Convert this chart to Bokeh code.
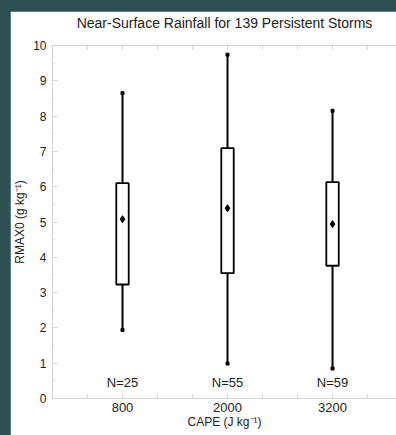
from bokeh.plotting import figure
from bokeh.models import (ColumnDataSource, FixedTicker, LinearAxis, Range1d)
from bokeh.embed import file_html
from bokeh.resources import INLINE

# ---- data ----
title_text = "Near-Surface Rainfall for 139 Persistent Storms"
cape = [800, 2000, 3200]
n_storms = [25, 55, 59]
whisker_low = [1.94, 0.99, 0.85]
q1 = [3.23, 3.55, 3.76]
median = [5.56, 5.56, 5.12]
q3 = [6.10, 7.09, 6.13]
whisker_high = [8.65, 9.74, 8.15]
mean = [5.08, 5.39, 4.94]
n_label_y = [0.45, 0.45, 0.45]
x_ticks = [800, 2000, 3200]
x_minor = [0, 400, 1200, 1600, 2400, 2800, 3600]
x_all = [0, 400, 800, 1200, 1600, 2000, 2400, 2800, 3200, 3600]
y_ticks = list(range(0, 11))

FONT = "Liberation Sans"
TXT = "#222222"
AX = "#d4d4d4"
TEAL = "#2d5053"
BOX_W = 142

src = ColumnDataSource(dict(
    x=cape, lo=whisker_low, q1=q1, med=median, q3=q3, hi=whisker_high,
    mean=mean, n=[f"N={v}" for v in n_storms], ny=n_label_y,
))

p = figure(width=386, height=424, output_backend="svg", toolbar_location=None,
           x_range=Range1d(0, 3931), y_range=Range1d(0, 10),
           min_border_left=42, min_border_right=0, min_border_top=34,
           min_border_bottom=37, x_axis_location=None, y_axis_location=None)
p.background_fill_color = "white"
p.border_fill_color = "white"
p.outline_line_color = None
p.xgrid.visible = False
p.ygrid.visible = False

def style_axis(ax, size="12px"):
    ax.axis_line_color = AX
    ax.axis_line_width = 1.2
    ax.major_tick_line_color = AX
    ax.minor_tick_line_color = AX
    ax.major_tick_out = 0
    ax.minor_tick_out = 0
    ax.major_label_text_font = FONT
    ax.major_label_text_font_size = size
    ax.major_label_text_color = TXT
    ax.axis_label_text_font = FONT
    ax.axis_label_text_font_size = "12px"
    ax.axis_label_text_font_style = "normal"
    ax.axis_label_text_color = TXT

xb = LinearAxis(ticker=FixedTicker(ticks=x_ticks, minor_ticks=x_minor),
                axis_label="CAPE (J kg\u207b\u00b9)")
style_axis(xb, "13px")
xb.major_tick_in = 4
xb.minor_tick_in = 4
xb.major_label_standoff = 4
xb.axis_label_standoff = 0
p.add_layout(xb, "below")

# top axis: tick marks only, with the chart title as its label
xt = LinearAxis(ticker=FixedTicker(ticks=[], minor_ticks=x_all),
                axis_label=title_text)
style_axis(xt)
xt.minor_tick_in = 4
xt.major_label_standoff = 0
xt.axis_label_text_font_size = "14px"
xt.axis_label_standoff = 15
p.add_layout(xt, "above")

yl = LinearAxis(ticker=FixedTicker(ticks=y_ticks,
                                   minor_ticks=[v + 0.5 for v in y_ticks[:-1]]),
                axis_label="RMAX0 (g kg\u207b\u00b9)")
style_axis(yl)
yl.major_tick_in = 5
yl.minor_tick_in = 2
yl.major_label_standoff = 6
yl.axis_label_standoff = 3
p.add_layout(yl, "left")

# whiskers
p.segment(x0="x", y0="q3", x1="x", y1="hi", source=src, line_color="black", line_width=2)
p.segment(x0="x", y0="lo", x1="x", y1="q1", source=src, line_color="black", line_width=2)
p.scatter(x="x", y="hi", source=src, marker="square", size=3, color="black")
p.scatter(x="x", y="lo", source=src, marker="square", size=3, color="black")
# boxes
p.vbar(x="x", width=BOX_W, bottom="q1", top="q3", source=src,
       fill_color="white", line_color="black", line_width=1.8)
p.rect(x="x", y="med", width=BOX_W, height=0, source=src,
       line_color="black", line_width=2)
# mean
p.scatter(x="x", y="mean", source=src, marker="diamond", size=7, color="black")
# counts
p.text(x="x", y="ny", text="n", source=src, text_align="center",
       text_baseline="middle", text_font_size="13px", text_color=TXT,
       text_font={"value": FONT})

html = file_html(p, INLINE, title="Near-Surface Rainfall")
css = ("<style>html,body{margin:0 !important;background:%s !important;"
       "overflow:hidden;}body{padding:11px 0 0 10px !important;}</style>" % TEAL)
html = html.replace("</head>", css + "</head>", 1)
open("out.html", "w").write(html)
